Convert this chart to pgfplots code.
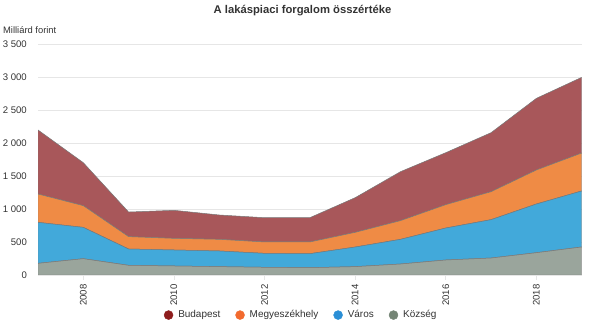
\documentclass[border=0pt]{standalone}
\usepackage{pgfplots}
\pgfplotsset{compat=1.18}
\usepackage{fontspec}
\setmainfont{Liberation Sans}
\definecolor{txt}{HTML}{333333}
\definecolor{gridc}{HTML}{E6E6E6}
\definecolor{aRed}{HTML}{A8575A}
\definecolor{aOrange}{HTML}{EF8B45}
\definecolor{aBlue}{HTML}{42A9DA}
\definecolor{aGray}{HTML}{9AA59C}
\definecolor{mRed}{HTML}{8E1D1D}
\definecolor{mOrange}{HTML}{F26A2E}
\definecolor{mBlue}{HTML}{2B8FD6}
\definecolor{mGray}{HTML}{748575}
\definecolor{edge}{HTML}{777777}
\begin{document}
\begin{tikzpicture}
\useasboundingbox (0,0) rectangle (605bp,327bp);
\node[font=\fontsize{11.3}{13}\selectfont\bfseries, text=txt] at (302.5bp,316.5bp) {A lakáspiaci forgalom összértéke};
\node[font=\fontsize{9.4}{11}\selectfont, text=txt, anchor=west, inner sep=0pt] at (3bp,297bp) {Milliárd forint};
\begin{axis}[
  at={(38bp,52bp)}, anchor=south west,
  scale only axis, width=543.7bp, height=230.3bp,
  xmin=2007, xmax=2019, ymin=0, ymax=3500,
  stack plots=y,
  axis line style={draw=none},
  axis x line*=bottom,
  x axis line style={draw=gridc, line width=0.8pt},
  axis y line*=left,
  y axis line style={draw=none},
  xtick={2008,2010,2012,2014,2016,2018},
  xticklabels={2008,2010,2012,2014,2016,2018},
  ytick={0,500,1000,1500,2000,2500,3000,3500},
  yticklabels={0,500,1 000,1 500,2 000,2 500,3 000,3 500},
  ymajorgrids, grid style={gridc, line width=0.8pt},
  major y tick style={draw=none},
  major x tick style={draw=gridc, line width=0.8pt},
  major tick length=5bp,
  tick align=outside,
  xticklabel style={rotate=90, anchor=east, font=\fontsize{9.6}{11}\selectfont, text=txt, xshift=-1bp},
  yticklabel style={font=\fontsize{9.6}{11}\selectfont, text=txt, anchor=east, inner sep=0pt, xshift=-6bp},
  legend style={draw=none, at={(0.484,-0.174)}, anchor=center, legend columns=-1,
    font=\fontsize{10}{11}\selectfont, text=txt,
    /tikz/every odd column/.append style={column sep=3bp},
    /tikz/every even column/.append style={column sep=13bp}},
  legend cell align=left,
]
\addplot[fill=aGray, draw=edge, line width=0.5pt, forget plot] coordinates {
(2007,177)(2008,248)(2009,147)(2010,137)(2011,127)(2012,117)(2013,111)(2014,127)(2015,167)(2016,228)(2017,258)(2018,339)(2019,426)} \closedcycle;
\addplot[fill=aBlue, draw=edge, line width=0.5pt, forget plot] coordinates {
(2007,623)(2008,476)(2009,248)(2010,243)(2011,238)(2012,212)(2013,213)(2014,298)(2015,375)(2016,486)(2017,583)(2018,740)(2019,851)} \closedcycle;
\addplot[fill=aOrange, draw=edge, line width=0.5pt, forget plot] coordinates {
(2007,431)(2008,330)(2009,188)(2010,177)(2011,177)(2012,173)(2013,178)(2014,223)(2015,284)(2016,355)(2017,425)(2018,517)(2019,577)} \closedcycle;
\addplot[fill=aRed, draw=edge, line width=0.5pt, forget plot] coordinates {
(2007,973)(2008,653)(2009,374)(2010,426)(2011,370)(2012,369)(2013,369)(2014,527)(2015,744)(2016,790)(2017,897)(2018,1089)(2019,1150)} \closedcycle;
\addlegendimage{legend image code/.code={\fill[mRed] (0bp,0bp) circle (4.5bp);}}
\addlegendentry{Budapest}
\addlegendimage{legend image code/.code={\fill[mOrange] (0bp,0bp) circle (4.5bp);}}
\addlegendentry{Megyeszékhely}
\addlegendimage{legend image code/.code={\fill[mBlue] (0bp,0bp) circle (4.5bp);}}
\addlegendentry{Város}
\addlegendimage{legend image code/.code={\fill[mGray] (0bp,0bp) circle (4.5bp);}}
\addlegendentry{Község}
\end{axis}
\end{tikzpicture}
\end{document}
